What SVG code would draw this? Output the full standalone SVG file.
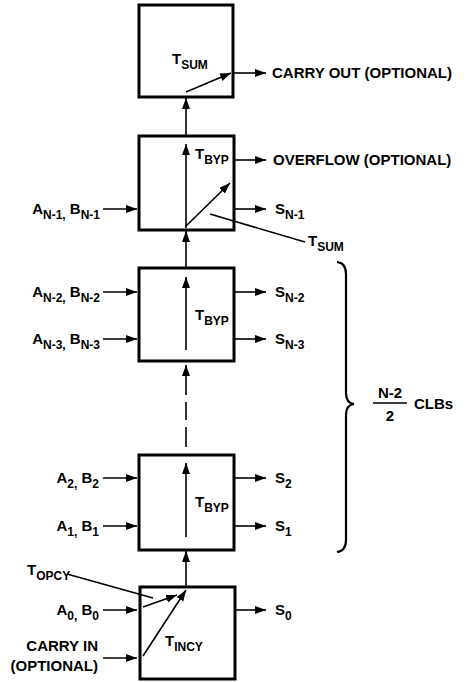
<svg xmlns="http://www.w3.org/2000/svg" width="466" height="682" viewBox="0 0 466 682">
<style>
.box{fill:#fff;stroke:#000;stroke-width:3}
.ln{fill:none;stroke:#000;stroke-width:1.6}
.ar{fill:none;stroke:#000;stroke-width:1.6;marker-end:url(#ah)}
text{font-family:"Liberation Sans",Arial,sans-serif;font-weight:bold;font-size:15px;fill:#000}
.s{font-size:12px}
</style>
<defs>
<marker id="ah" markerUnits="userSpaceOnUse" markerWidth="12" markerHeight="9" refX="11" refY="4" orient="auto">
<path d="M0,0 L11,4 L0,8 z" fill="#000"/>
</marker>
</defs>
<rect width="466" height="682" fill="#fff"/>

<g id="clb-top">
<rect class="box" x="139" y="5" width="94" height="92"/>
<text x="172" y="64">T<tspan class="s" dy="5">SUM</tspan></text>
</g>
<g id="clb-n1">
<rect class="box" x="139" y="136" width="95" height="94"/>
<text x="195" y="159">T<tspan class="s" dy="5">BYP</tspan></text>
</g>
<g id="clb-n2">
<rect class="box" x="139" y="268" width="95" height="93"/>
<text x="195" y="320">T<tspan class="s" dy="5">BYP</tspan></text>
</g>
<g id="clb-2">
<rect class="box" x="139" y="455" width="95" height="95"/>
<text x="195" y="507">T<tspan class="s" dy="5">BYP</tspan></text>
</g>
<g id="clb-0">
<rect class="box" x="140" y="587" width="95" height="92"/>
<text x="165" y="646">T<tspan class="s" dy="5">INCY</tspan></text>
</g>

<g id="labels">
<text x="272" y="78">CARRY OUT (OPTIONAL)</text>
<text x="273" y="165">OVERFLOW (OPTIONAL)</text>
<text x="275" y="214">S<tspan class="s" dy="5">N-1</tspan></text>
<text x="308" y="246">T<tspan class="s" dy="5">SUM</tspan></text>
<text x="100" y="214" text-anchor="end">A<tspan class="s" dy="5">N-1,</tspan><tspan dy="-5"> B</tspan><tspan class="s" dy="5">N-1</tspan></text>
<text x="100" y="297" text-anchor="end">A<tspan class="s" dy="5">N-2,</tspan><tspan dy="-5"> B</tspan><tspan class="s" dy="5">N-2</tspan></text>
<text x="100" y="344" text-anchor="end">A<tspan class="s" dy="5">N-3,</tspan><tspan dy="-5"> B</tspan><tspan class="s" dy="5">N-3</tspan></text>
<text x="275" y="297">S<tspan class="s" dy="5">N-2</tspan></text>
<text x="275" y="344">S<tspan class="s" dy="5">N-3</tspan></text>
<text x="99" y="483" text-anchor="end">A<tspan class="s" dy="5">2,</tspan><tspan dy="-5"> B</tspan><tspan class="s" dy="5">2</tspan></text>
<text x="99" y="531" text-anchor="end">A<tspan class="s" dy="5">1,</tspan><tspan dy="-5"> B</tspan><tspan class="s" dy="5">1</tspan></text>
<text x="275" y="483">S<tspan class="s" dy="5">2</tspan></text>
<text x="275" y="531">S<tspan class="s" dy="5">1</tspan></text>
<text x="27" y="575">T<tspan class="s" dy="5">OPCY</tspan></text>
<text x="99" y="615" text-anchor="end">A<tspan class="s" dy="5">0,</tspan><tspan dy="-5"> B</tspan><tspan class="s" dy="5">0</tspan></text>
<text x="275" y="615">S<tspan class="s" dy="5">0</tspan></text>
<text x="98" y="651" text-anchor="end">CARRY IN</text>
<text x="98" y="671" text-anchor="end">(OPTIONAL)</text>
<text x="390" y="398" text-anchor="middle">N-2</text>
<text x="390" y="421" text-anchor="middle">2</text>
<text x="414" y="409">CLBs</text>
</g>

<g id="connectors">
<line class="ar" x1="186" y1="92" x2="231" y2="73"/>
<line class="ar" x1="234" y1="73" x2="266" y2="73"/>
<line class="ar" x1="186" y1="135" x2="186" y2="98"/>
<line class="ar" x1="186" y1="228" x2="186" y2="144"/>
<line class="ar" x1="186" y1="226" x2="230" y2="183"/>
<line class="ar" x1="235" y1="160" x2="266" y2="160"/>
<line class="ar" x1="235" y1="209" x2="266" y2="209"/>
<line class="ar" x1="103" y1="209" x2="137" y2="209"/>
<line class="ln" x1="210" y1="214" x2="305" y2="242"/>
<line class="ar" x1="186" y1="267" x2="186" y2="231"/>
<line class="ar" x1="186" y1="350" x2="186" y2="277"/>
<line class="ar" x1="235" y1="292" x2="266" y2="292"/>
<line class="ar" x1="235" y1="339" x2="266" y2="339"/>
<line class="ar" x1="103" y1="292" x2="137" y2="292"/>
<line class="ar" x1="103" y1="339" x2="137" y2="339"/>
<line class="ar" x1="186" y1="395" x2="186" y2="365"/>
<line class="ln" x1="186" y1="402" x2="186" y2="420"/>
<line class="ln" x1="186" y1="427" x2="186" y2="447"/>
<line class="ar" x1="186" y1="537" x2="186" y2="463"/>
<line class="ar" x1="235" y1="478" x2="266" y2="478"/>
<line class="ar" x1="235" y1="526" x2="266" y2="526"/>
<line class="ar" x1="103" y1="478" x2="137" y2="478"/>
<line class="ar" x1="103" y1="526" x2="137" y2="526"/>
<line class="ar" x1="186" y1="586" x2="186" y2="551"/>
<line class="ar" x1="143" y1="607" x2="177" y2="595"/>
<line class="ar" x1="143" y1="656" x2="186" y2="590"/>
<line class="ln" x1="67" y1="574" x2="153" y2="598"/>
<line class="ar" x1="236" y1="610" x2="266" y2="610"/>
<line class="ar" x1="103" y1="610" x2="137" y2="610"/>
<line class="ar" x1="103" y1="658" x2="137" y2="658"/>
<line class="ln" x1="373" y1="403" x2="407" y2="403"/>
<path class="ln" style="stroke-width:2.2" d="M337,262 Q346,263 346,274 L346,393 Q346,403 354,404 Q346,405 346,415 L346,540 Q346,551 337,552"/>
</g>
</svg>
